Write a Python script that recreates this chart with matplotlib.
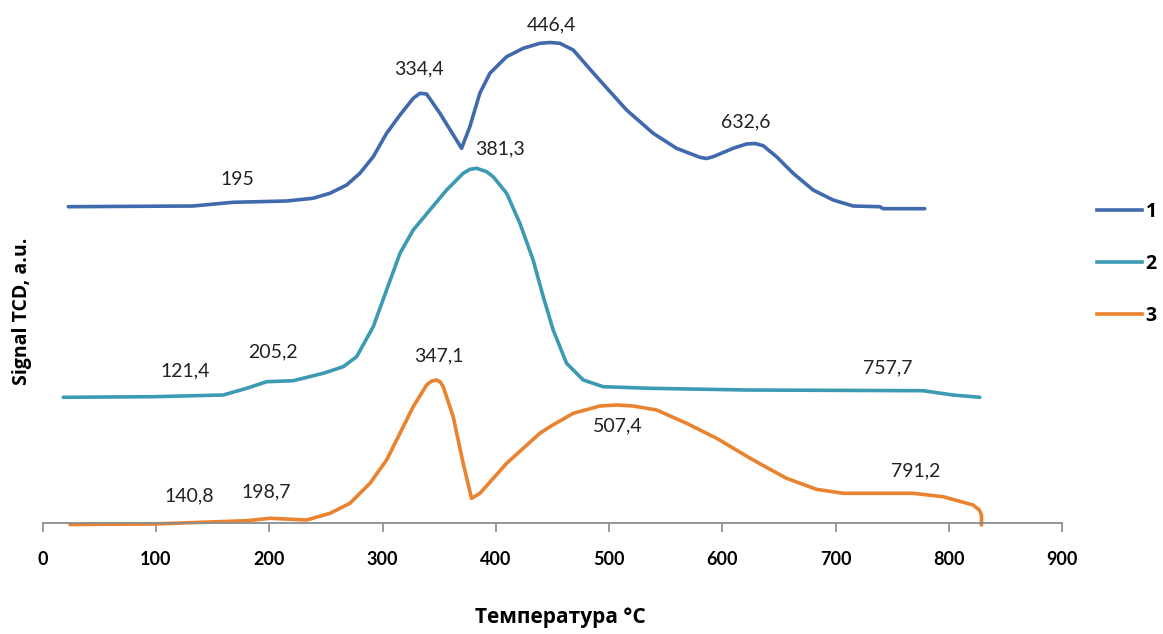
import matplotlib
matplotlib.use("Agg")
import matplotlib.pyplot as plt
from matplotlib.lines import Line2D

# ---- data (temperature °C, signal a.u.) ----
t1 = [22.5, 132.6, 167.9, 215.3, 238.5, 253.5, 268.3, 280.0, 291.8, 303.6, 315.4, 327.1, 333.0, 338.9,
      350.7, 369.8, 377.1, 385.9, 394.8, 403.6, 409.6, 424.2, 439.0, 448.0, 456.6, 468.4, 489.0, 515.5,
      539.0, 559.6, 580.2, 586.0, 592.0, 609.6, 621.4, 629.0, 636.1, 647.9, 662.6, 680.2, 697.9, 715.5,
      739.1, 742.0, 778.8]
s1 = [3.163, 3.17, 3.207, 3.22, 3.247, 3.297, 3.38, 3.497, 3.663, 3.897, 4.08, 4.247, 4.297, 4.29,
      4.097, 3.747, 3.963, 4.297, 4.497, 4.597, 4.663, 4.747, 4.797, 4.805, 4.797, 4.73, 4.463, 4.13,
      3.897, 3.747, 3.657, 3.645, 3.663, 3.747, 3.79, 3.795, 3.773, 3.663, 3.497, 3.33, 3.23, 3.17,
      3.163, 3.143, 3.143]

t2 = [18.1, 97.6, 159.4, 180.0, 197.7, 221.2, 247.6, 265.3, 277.1, 291.8, 303.6, 315.4, 327.1, 341.8,
      356.6, 371.2, 377.2, 383.1, 391.9, 397.7, 409.6, 421.3, 433.0, 441.9, 450.7, 462.5, 477.2, 494.8,
      536.1, 621.4, 777.3, 803.8, 827.4]
s2 = [1.257, 1.263, 1.28, 1.347, 1.413, 1.423, 1.497, 1.563, 1.663, 1.963, 2.33, 2.697, 2.93, 3.13,
      3.33, 3.497, 3.537, 3.547, 3.513, 3.463, 3.297, 2.997, 2.63, 2.263, 1.93, 1.597, 1.43, 1.363,
      1.347, 1.33, 1.323, 1.28, 1.257]

t3 = [24.0, 97.6, 180.0, 200.6, 233.0, 253.6, 271.2, 288.9, 303.6, 315.4, 327.1, 338.9, 343.5, 347.8,
      351.0, 353.6, 362.4, 371.2, 378.6, 386.0, 409.6, 438.9, 447.8, 468.4, 491.9, 507.0, 521.3, 542.0,
      568.5, 595.0, 627.3, 656.7, 683.2, 706.7, 768.5, 795.0, 821.5, 827.0, 828.9, 828.9]
s3 = [-0.015, -0.01, 0.023, 0.047, 0.03, 0.097, 0.197, 0.397, 0.63, 0.897, 1.163, 1.38, 1.42, 1.43,
      1.41, 1.363, 1.063, 0.597, 0.247, 0.297, 0.597, 0.897, 0.963, 1.097, 1.17, 1.18, 1.17, 1.13,
      0.997, 0.847, 0.63, 0.447, 0.337, 0.297, 0.297, 0.263, 0.18, 0.13, 0.08, -0.02]

series_names = ["1", "2", "3"]
colors = ["#4169AE", "#3C9AB2", "#E9832F"]

# peak labels: (text, x, y) in data units
peak_labels = [
    ("446,4", 449, 4.98), ("334,4", 332, 4.54), ("195", 172, 3.43), ("381,3", 404, 3.745), ("632,6", 621, 4.01),
    ("121,4", 126, 1.52), ("205,2", 203, 1.713), ("347,1", 350, 1.67), ("757,7", 746, 1.55),
    ("507,4", 508, 0.97), ("140,8", 129, 0.27), ("198,7", 197, 0.31), ("791,2", 771, 0.52),
]

xticks = [0, 100, 200, 300, 400, 500, 600, 700, 800, 900]

W, H = 1163, 634
fig = plt.figure(figsize=(W / 100, H / 100), dpi=100)
ax = fig.add_axes([42.8 / W, 1 - 523 / H, (1062 - 42.8) / W, (523 - 30) / H])

for t, s, c, n in zip([t1, t2, t3], [s1, s2, s3], colors, series_names):
    ax.plot(t, s, color=c, lw=2.6, label=n, solid_joinstyle="round", solid_capstyle="round", clip_on=False)

for txt, x, y in peak_labels:
    ax.text(x, y, txt, ha="center", va="center", fontsize=14, family="Lato", color="#222222")

ax.set_xlim(0, 900)
ax.set_ylim(0, 4.93)
ax.set_xticks(xticks)
ax.set_xticklabels([str(v) for v in xticks], fontsize=13, fontweight="bold", family="Lato")
ax.set_yticks([])
for sp in ["left", "top", "right"]:
    ax.spines[sp].set_visible(False)
ax.spines["bottom"].set_color("#8C8C8C")
ax.spines["bottom"].set_linewidth(1.3)
ax.tick_params(axis="x", direction="out", length=6.5, width=1.2, color="#8C8C8C", pad=14)

fig.text(560 / W, 1 - 618 / H, "Температура °C", ha="center", va="center",
         fontsize=15, fontweight="bold", family="Open Sans")
fig.text(22 / W, 1 - 311 / H, "Signal TCD, a.u.", ha="center", va="center", rotation=90,
         fontsize=14, fontweight="bold", family="Open Sans")

handles = [Line2D([0], [0], color=c, lw=2.6) for c in colors]
leg = fig.legend(handles, series_names, loc="center left", bbox_to_anchor=(1097 / W, 1 - 264 / H),
                 frameon=False, borderpad=0, borderaxespad=0, handlelength=2.3, handletextpad=0.2,
                 labelspacing=1.65, prop={"family": "Open Sans", "weight": "bold", "size": 14})

fig.savefig("out.png", dpi=100)
